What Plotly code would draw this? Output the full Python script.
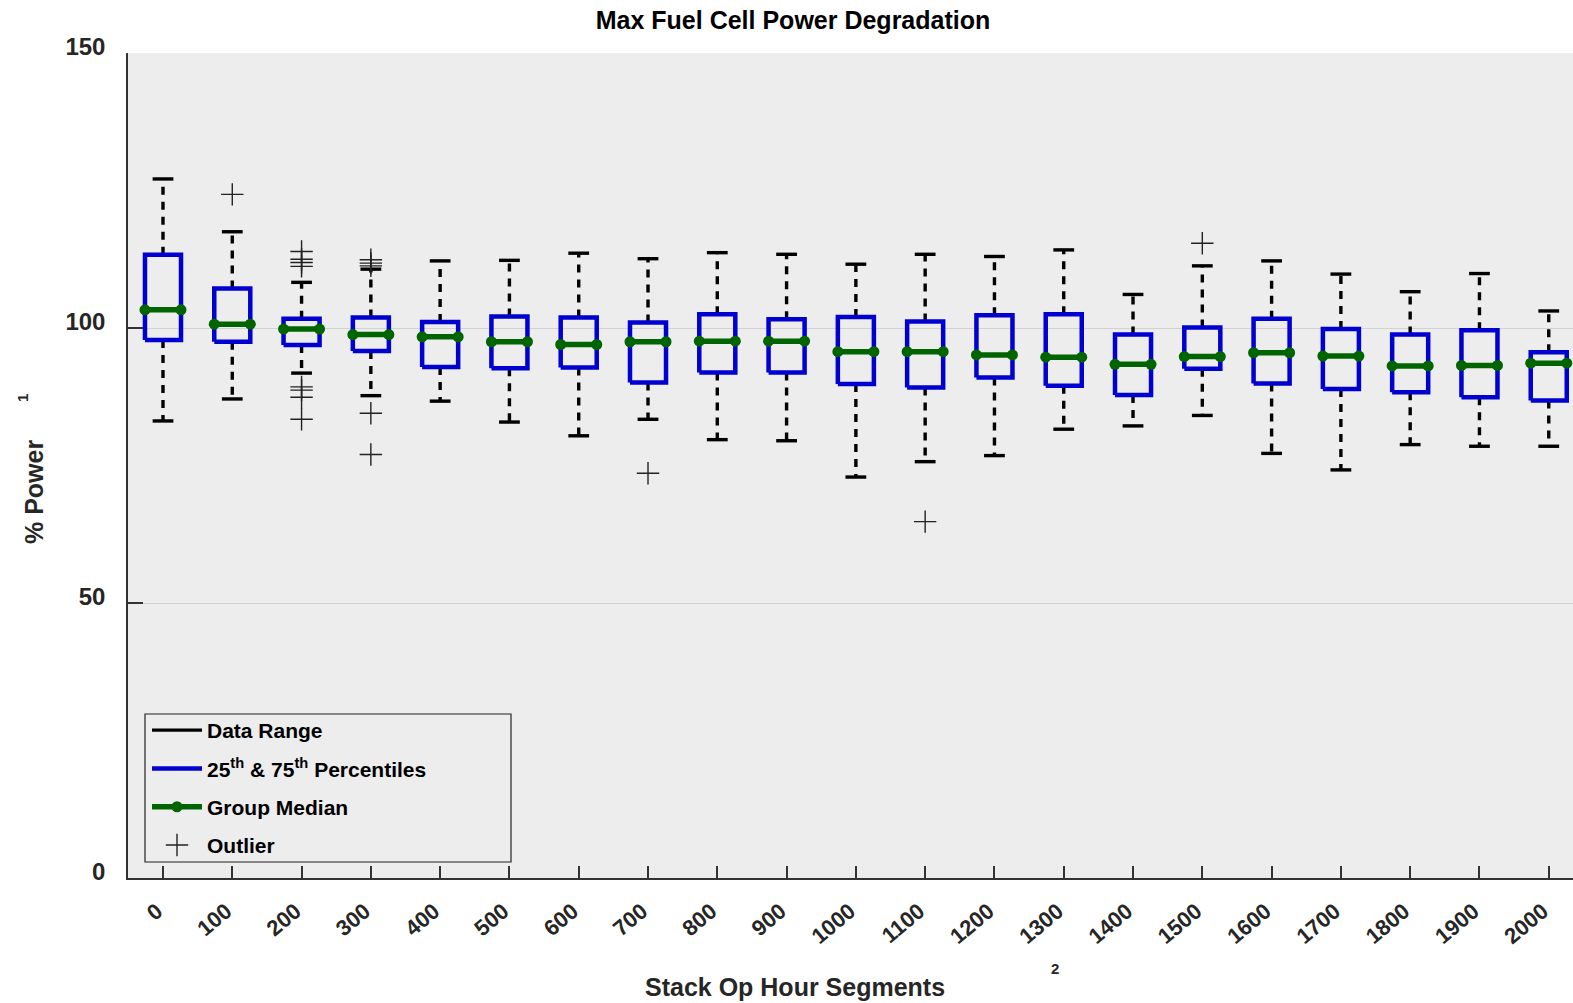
import plotly.graph_objects as go

categories = ['0', '100', '200', '300', '400', '500', '600', '700', '800', '900', '1000',
              '1100', '1200', '1300', '1400', '1500', '1600', '1700', '1800', '1900', '2000']
upper_whisker = [127.1, 117.5, 108.3, 110.7, 112.2, 112.3, 113.6, 112.6, 113.7, 113.4, 111.6,
                 113.4, 113.0, 114.2, 106.1, 111.3, 112.2, 109.8, 106.6, 109.9, 103.1]
q3 = [113.3, 107.2, 101.7, 101.9, 101.1, 102.1, 101.9, 101.0, 102.5, 101.6, 102.0,
      101.2, 102.3, 102.5, 98.8, 100.1, 101.7, 99.8, 98.8, 99.6, 95.6]
median = [103.3, 100.7, 99.8, 98.8, 98.4, 97.5, 97.0, 97.5, 97.6, 97.6, 95.7,
          95.7, 95.1, 94.7, 93.4, 94.8, 95.5, 94.9, 93.1, 93.2, 93.6]
q1 = [97.8, 97.5, 96.9, 95.8, 92.9, 92.7, 92.8, 90.1, 91.9, 91.9, 89.8,
      89.2, 91.0, 89.5, 87.8, 92.6, 89.9, 88.9, 88.3, 87.4, 86.8]
lower_whisker = [83.1, 87.1, 91.8, 87.7, 86.7, 82.9, 80.4, 83.4, 79.7, 79.5, 72.9,
                 75.7, 76.8, 81.6, 82.2, 84.1, 77.2, 74.2, 78.8, 78.5, 78.5]
outlier_group = [1, 2, 2, 2, 2, 2, 2, 2, 2, 3, 3, 3, 3, 3, 7, 11, 15]
outlier_value = [124.3, 113.9, 112.5, 111.9, 111.2, 89.3, 88.7, 87.4, 83.4,
                 112.4, 111.8, 111.3, 84.5, 77.0, 73.6, 64.8, 115.4]

FONT = "Liberation Sans, Arial, Helvetica, sans-serif"
BLUE = "#0000D0"
GREEN = "#006400"
BG = "#EDEDED"

hw = 0.26   # box half width (category units)
cw = 0.15   # cap half width

bx, by, mx, my, wx, wy, cx, cy = [], [], [], [], [], [], [], []
for i in range(len(categories)):
    bx += [i - hw, i + hw, i + hw, i - hw, i - hw, None]
    by += [q1[i], q1[i], q3[i], q3[i], q1[i], None]
    mx += [i - hw, i + hw, None]
    my += [median[i], median[i], None]
    wx += [i, i, None, i, i, None]
    wy += [q3[i], upper_whisker[i], None, q1[i], lower_whisker[i], None]
    cx += [i - cw, i + cw, None, i - cw, i + cw, None]
    cy += [upper_whisker[i], upper_whisker[i], None, lower_whisker[i], lower_whisker[i], None]

fig = go.Figure()
fig.add_trace(go.Scatter(x=wx, y=wy, mode='lines', showlegend=False, hoverinfo='skip',
                         line=dict(color='black', width=3.4, dash='8px,7px')))
fig.add_trace(go.Scatter(x=cx, y=cy, mode='lines', name='Data Range', legendgroup='a',
                         line=dict(color='black', width=3.4)))
fig.add_trace(go.Scatter(x=bx, y=by, mode='lines', name='25<sup>th</sup> & 75<sup>th</sup> Percentiles',
                         legendgroup='b', line=dict(color=BLUE, width=4.5)))
fig.add_trace(go.Scatter(x=mx, y=my, mode='lines+markers', name='Group Median', legendgroup='c',
                         line=dict(color=GREEN, width=5.5), marker=dict(color=GREEN, size=11)))
fig.add_trace(go.Scatter(x=outlier_group, y=outlier_value, mode='markers', name='Outlier',
                         legendgroup='d',
                         marker=dict(symbol='cross-thin', size=16, line=dict(color='#222222', width=1.4))))

L, R, T, B = 128, 0, 53, 125
W, H = 1573, 1003
pw, ph = W - L - R, H - T - B

def px(x):
    return (x - L) / pw

def py(y):
    return (H - B - y) / ph

fig.update_layout(
    width=W, height=H,
    margin=dict(l=L, r=R, t=T, b=B, autoexpand=False),
    paper_bgcolor='white', plot_bgcolor=BG,
    font=dict(family=FONT, color='#262626'),
    title=dict(text='Max Fuel Cell Power Degradation', x=793 / W, xanchor='center',
               y=1 - 20 / H, yanchor='middle',
               font=dict(family=FONT, size=25, weight='bold', color='black')),
    showlegend=True,
    legend=dict(x=px(147), y=py(710), xanchor='left', yanchor='top',
                bgcolor='rgba(0,0,0,0)', borderwidth=0, itemwidth=50,
                tracegroupgap=8, traceorder='grouped',
                font=dict(family=FONT, size=21, weight='bold', color='black')),
    xaxis=dict(range=[-0.505, 20.35], tickmode='array', tickvals=list(range(len(categories))),
               ticktext=categories, tickangle=-40, ticks='inside', ticklen=12, tickwidth=1.5,
               tickcolor='#333333', showgrid=False, zeroline=False, showline=True,
               linecolor='#333333', linewidth=1.5, ticklabelstandoff=10, ticklabelshift=-6,
               tickfont=dict(family=FONT, size=22, weight='bold', color='#262626')),
    yaxis=dict(range=[0, 150], tickmode='array', tickvals=[0, 50, 100, 150], ticks='inside',
               ticklen=15, tickwidth=1.5, tickcolor='#333333', showgrid=True,
               gridcolor='#D2D2D2', gridwidth=1, zeroline=False, showline=True,
               linecolor='#333333', linewidth=1.5, ticklabelshift=-6, ticklabelstandoff=16,
               tickfont=dict(family=FONT, size=24, weight='bold', color='#262626')),
    shapes=[dict(type='rect', xref='paper', yref='paper', x0=px(145), x1=px(511),
                 y0=py(862), y1=py(714), line=dict(color='#222222', width=1.2),
                 fillcolor='rgba(0,0,0,0)', layer='above')],
    annotations=[
        dict(text='% Power', xref='paper', yref='paper', x=px(34), y=py(492), showarrow=False,
             textangle=-90, xanchor='center', yanchor='middle',
             font=dict(family=FONT, size=25, weight='bold', color='#262626')),
        dict(text='1', xref='paper', yref='paper', x=px(22), y=py(398), showarrow=False,
             textangle=-90, xanchor='center', yanchor='middle',
             font=dict(family=FONT, size=15, weight='bold', color='#262626')),
        dict(text='Stack Op Hour Segments', xref='paper', yref='paper', x=px(795), y=py(987),
             showarrow=False, xanchor='center', yanchor='middle',
             font=dict(family=FONT, size=25, weight='bold', color='#262626')),
        dict(text='2', xref='paper', yref='paper', x=px(1055), y=py(968), showarrow=False,
             xanchor='center', yanchor='middle',
             font=dict(family=FONT, size=15, weight='bold', color='#262626')),
    ],
)

fig.write_html("out.html", config={'displayModeBar': False},
               post_script="document.body.style.margin='0px';document.body.style.overflow='hidden';")
